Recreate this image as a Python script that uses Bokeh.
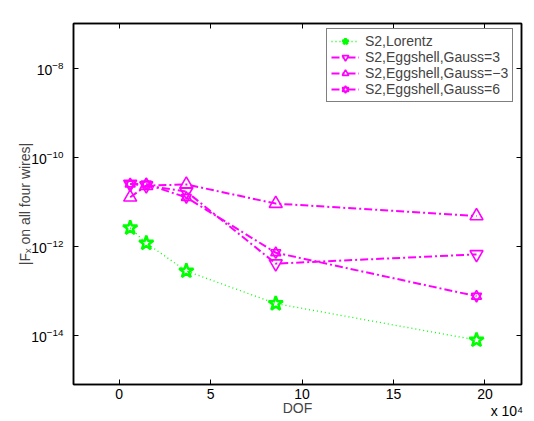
from bokeh.plotting import figure
from bokeh.models import (Range1d, FixedTicker, LinearAxis, LogAxis, Legend,
                          LegendItem)
from bokeh.embed import file_html
from bokeh.resources import INLINE

# ---- data (DOF in units of 1e4) ----
dof = [0.6, 1.48, 3.67, 8.56, 19.54]
lorentz = [2.6e-12, 1.18e-12, 2.8e-13, 5.2e-14, 7.9e-15]
gauss_p3 = [2.5e-11, 2.3e-11, 1.7e-11, 4.1e-13, 6.6e-13]
gauss_m3 = [1.26e-11, 2.3e-11, 2.45e-11, 9.1e-12, 4.8e-12]
gauss_p6 = [2.5e-11, 2.5e-11, 1.25e-11, 7.2e-13, 7.6e-14]

labels = ["S2,Lorentz", "S2,Eggshell,Gauss=3", "S2,Eggshell,Gauss=\u22123",
          "S2,Eggshell,Gauss=6"]
x_ticks = [0, 5, 10, 15, 20]
y_ticks = [1e-14, 1e-12, 1e-10, 1e-8]
multiplier_text = "x 10\u2074"
multiplier_pos = 21.2

FONT = "Liberation Sans"
FS = "14px"
GREEN = "#00ff00"
MAGENTA = "#ff00ff"

p = figure(width=534, height=421, output_backend="svg", toolbar_location=None,
           y_axis_type="log", x_range=Range1d(-2.5, 22),
           y_range=Range1d(10 ** -15.1, 10 ** -7.0),
           min_border_left=73, min_border_right=13, min_border_top=23,
           min_border_bottom=37)
p.grid.visible = False
p.outline_line_color = "black"
p.outline_line_width = 1.5
p.background_fill_color = "white"
p.border_fill_color = "white"

# lines + markers
l1 = p.line(dof, lorentz, line_color=GREEN, line_width=1.3, line_dash="1 3")
s1 = p.scatter(dof, lorentz, marker="star", size=15, line_color=GREEN,
               fill_color=None, line_width=2.5)

l2 = p.line(dof, gauss_p3, line_color=MAGENTA, line_width=2, line_dash="8 3 2 3")
s2 = p.scatter(dof, gauss_p3, marker="inverted_triangle", size=13,
               line_color=MAGENTA, fill_color=None, line_width=1.6)

l3 = p.line(dof, gauss_m3, line_color=MAGENTA, line_width=2, line_dash="8 3 2 3")
s3 = p.scatter(dof, gauss_m3, marker="triangle", size=13,
               line_color=MAGENTA, fill_color=None, line_width=1.6)

l4 = p.line(dof, gauss_p6, line_color=MAGENTA, line_width=2, line_dash="8 3 2 3")
s4a = p.scatter(dof, gauss_p6, marker="triangle", size=10,
                line_color=MAGENTA, fill_color=None, line_width=1.6)
s4b = p.scatter(dof, gauss_p6, marker="inverted_triangle", size=10,
                line_color=MAGENTA, fill_color=None, line_width=1.6)


def style_axis(ax):
    ax.axis_line_color = "black"
    ax.axis_line_width = 1.5
    ax.major_tick_in = 5
    ax.major_tick_out = 0
    ax.major_tick_line_color = "black"
    ax.major_tick_line_width = 1
    ax.minor_tick_line_color = None
    ax.major_label_text_font = FONT
    ax.major_label_text_color = "black"
    ax.major_label_text_font_size = FS


xa = p.xaxis[0]
xa.ticker = FixedTicker(ticks=x_ticks)
style_axis(xa)
xa.major_label_standoff = 4
xa.axis_label = "DOF"
xa.axis_label_text_font = FONT
xa.axis_label_text_font_size = FS
xa.axis_label_text_font_style = "normal"
xa.axis_label_standoff = -2

# "x 10^4" multiplier drawn as a label-only axis under the x axis
mult = LinearAxis(ticker=FixedTicker(ticks=[multiplier_pos]),
                  major_label_overrides={multiplier_pos: multiplier_text})
mult.axis_line_color = None
mult.major_tick_line_color = None
mult.minor_tick_line_color = None
mult.major_label_text_font = FONT
mult.major_label_text_font_size = FS
mult.major_label_text_color = "black"
mult.major_label_standoff = -22
p.add_layout(mult, "below")

ya = p.yaxis[0]
ya.ticker = FixedTicker(ticks=y_ticks)
style_axis(ya)
ya.major_label_standoff = 10
ya.axis_label = "|F\u2093 on all four wires|"
ya.axis_label_text_font = FONT
ya.axis_label_text_font_size = FS
ya.axis_label_text_font_style = "normal"
ya.axis_label_standoff = -5

# mirrored ticks on top and right (no labels)
top = LinearAxis(ticker=FixedTicker(ticks=x_ticks),
                 major_label_overrides={t: "" for t in x_ticks})
style_axis(top)
top.major_label_standoff = 0
p.add_layout(top, "above")
right = LogAxis(ticker=FixedTicker(ticks=y_ticks),
                major_label_overrides={t: "" for t in y_ticks})
style_axis(right)
right.major_label_standoff = 0
p.add_layout(right, "right")

legend = Legend(items=[
    LegendItem(label=labels[0], renderers=[l1, s1]),
    LegendItem(label=labels[1], renderers=[l2, s2]),
    LegendItem(label=labels[2], renderers=[l3, s3]),
    LegendItem(label=labels[3], renderers=[l4, s4a, s4b]),
], location=(253, 282))
legend.border_line_color = "black"
legend.border_line_width = 1
legend.background_fill_color = "white"
legend.background_fill_alpha = 1
legend.label_text_font = FONT
legend.label_text_font_size = FS
legend.label_height = 16
legend.glyph_height = 16
legend.glyph_width = 28
legend.spacing = 0
legend.padding = 4
legend.margin = 0
legend.label_standoff = 6
p.add_layout(legend)

open("out.html", "w").write(file_html(p, INLINE))
